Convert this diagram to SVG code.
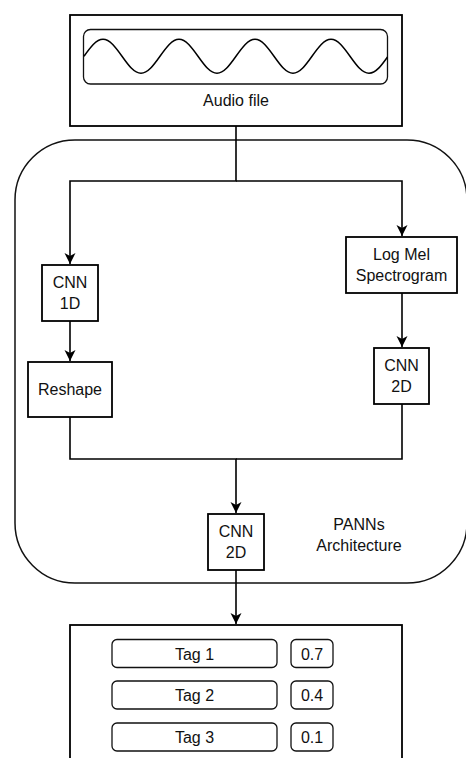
<svg xmlns="http://www.w3.org/2000/svg" width="466" height="758" viewBox="0 0 466 758">
<style>
.box{fill:#fff;stroke:#000;stroke-width:1.8}
.thin{fill:#fff;stroke:#111;stroke-width:1.3}
.cont{fill:none;stroke:#111;stroke-width:1.5}
.wire{fill:none;stroke:#000;stroke-width:1.6}
text{font-family:"Liberation Sans",Arial,sans-serif;font-size:16px;fill:#111;text-anchor:middle}
</style>
<defs>
<marker id="arr" markerUnits="userSpaceOnUse" markerWidth="12" markerHeight="12" refX="11" refY="5.5" orient="auto">
<path d="M0,0 L11,5.5 L0,11 L3,5.5 Z" fill="#000"/>
</marker>
</defs>
<g id="container">
<rect class="cont" x="15" y="140" width="452" height="443" rx="60" ry="60"/>
<text x="359" y="530">PANNs</text>
<text x="359" y="551">Architecture</text>
</g>
<g id="audio">
<rect class="box" x="70" y="15" width="332" height="111"/>
<rect class="thin" x="83.5" y="29.5" width="304" height="54.5" rx="7" ry="7"/>
<path fill="none" stroke="#000" stroke-width="1.5" d="M84,56.3 C90.19,47.6 96.14,39.3 103,39.3 S115.81,47.6 122,56.3 S134.14,73.3 141,73.3 S153.81,65 160,56.3 S172.14,39.3 179,39.3 S191.81,47.6 198,56.3 S210.14,73.3 217,73.3 S229.81,65 236,56.3 S248.14,39.3 255,39.3 S267.81,47.6 274,56.3 S286.14,73.3 293,73.3 S305.81,65 312,56.3 S324.14,39.3 331,39.3 S343.81,47.6 350,56.3 S362.14,73.3 369,73.3 S381.81,65 387.5,57"/>
<text x="236" y="106">Audio file</text>
</g>
<g id="connectors">
<path class="wire" d="M236,126 V181 H70 V264" marker-end="url(#arr)"/>
<path class="wire" d="M236,181 H402 V236" marker-end="url(#arr)"/>
<path class="wire" d="M70,321 V361" marker-end="url(#arr)"/>
<path class="wire" d="M402,293 V347" marker-end="url(#arr)"/>
<path class="wire" d="M70,417 V459 H236 V513" marker-end="url(#arr)"/>
<path class="wire" d="M402,404 V459 H236"/>
<path class="wire" d="M236,570 V624" marker-end="url(#arr)"/>
</g>
<g id="cnn1d">
<rect class="box" x="42" y="265" width="56" height="56"/>
<text x="70" y="288">CNN</text>
<text x="70" y="308.5">1D</text>
</g>
<g id="logmel">
<rect class="box" x="346" y="237" width="111" height="56"/>
<text x="401.5" y="260">Log Mel</text>
<text x="401.5" y="280.5">Spectrogram</text>
</g>
<g id="reshape">
<rect class="box" x="28" y="362" width="84" height="55"/>
<text x="70" y="395">Reshape</text>
</g>
<g id="cnn2d-right">
<rect class="box" x="374" y="348" width="55" height="56"/>
<text x="401.5" y="371">CNN</text>
<text x="401.5" y="391.5">2D</text>
</g>
<g id="cnn2d-bottom">
<rect class="box" x="208" y="514" width="56" height="56"/>
<text x="236" y="537">CNN</text>
<text x="236" y="557.5">2D</text>
</g>
<g id="output">
<rect class="box" x="70" y="625" width="332" height="150"/>
<rect class="thin" x="112" y="639.5" width="165" height="28" rx="5" ry="5"/>
<text x="194.5" y="659.5">Tag 1</text>
<rect class="thin" x="291" y="639.5" width="42" height="28" rx="5" ry="5"/>
<text x="312" y="659.5">0.7</text>
<rect class="thin" x="112" y="681" width="165" height="28" rx="5" ry="5"/>
<text x="194.5" y="701">Tag 2</text>
<rect class="thin" x="291" y="681" width="42" height="28" rx="5" ry="5"/>
<text x="312" y="701">0.4</text>
<rect class="thin" x="112" y="723" width="165" height="28" rx="5" ry="5"/>
<text x="194.5" y="743">Tag 3</text>
<rect class="thin" x="291" y="723" width="42" height="28" rx="5" ry="5"/>
<text x="312" y="743">0.1</text>
</g>
</svg>
